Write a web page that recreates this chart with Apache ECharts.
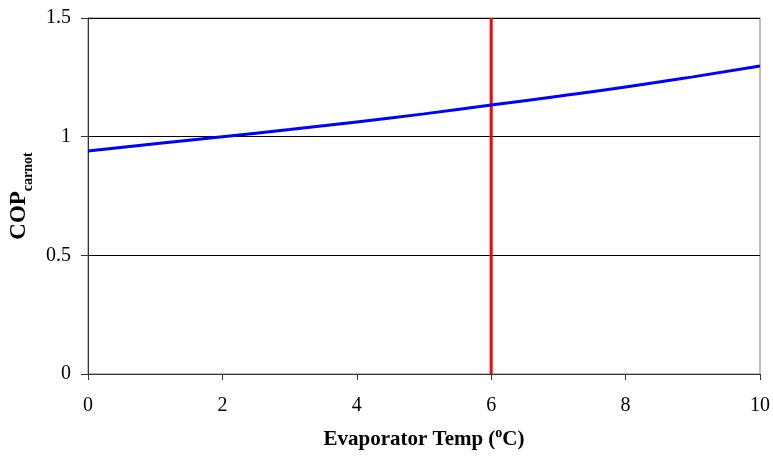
<!DOCTYPE html>
<html><head><meta charset="utf-8">
<script src="https://cdn.jsdelivr.net/npm/echarts@6/dist/echarts.min.js"></script>
<style>html,body{margin:0;padding:0;background:#fff}#c{width:773px;height:459px}</style>
</head><body><div id="c"></div>
<script>
const temps = [0,1,2,3,4,5,6,7,8,9,10];
const cop = [0.94,0.97,1.0,1.03,1.062,1.096,1.133,1.17,1.209,1.252,1.298];
const markerTemp = 6;
const yTicks = [0,0.5,1,1.5];

const chart = echarts.init(document.getElementById('c'));
const F = '"Liberation Serif","Times New Roman",serif';
chart.setOption({
  animation:false,
  grid:{left:88,right:13,top:18,bottom:85,show:true,borderColor:'#808080',borderWidth:1,
        containLabel:false,outerBoundsMode:'none'},
  xAxis:{type:'value',min:0,max:10,interval:2,
    axisLine:{lineStyle:{color:'#333',width:1}},
    axisTick:{show:true,length:6,inside:false,lineStyle:{color:'#333'}},
    axisLabel:{color:'#000',fontFamily:F,fontSize:20,margin:22},
    splitLine:{show:false},
    name:'{b|Evaporator Temp (}{s|o}{b|C)}',nameLocation:'middle',nameGap:52,
    nameTextStyle:{rich:{
      b:{fontFamily:F,fontSize:21,fontWeight:'bold',color:'#000',lineHeight:24,verticalAlign:'bottom'},
      s:{fontFamily:F,fontSize:14,fontWeight:'bold',color:'#000',lineHeight:24,verticalAlign:'top'}}}
  },
  yAxis:{type:'value',min:0,max:1.5,interval:0.5,
    axisLine:{show:true,lineStyle:{color:'#333',width:1}},
    axisTick:{show:true,length:7,inside:false,lineStyle:{color:'#333'}},
    axisLabel:{color:'#000',fontFamily:F,fontSize:20,margin:17,formatter:v=>String(v)},
    splitLine:{show:true,lineStyle:{color:'#000',width:1}},
    name:'{b|COP}{s|carnot}',nameLocation:'middle',nameGap:51,
    nameTextStyle:{rich:{
      b:{fontFamily:F,fontSize:23,fontWeight:'bold',color:'#000',lineHeight:28,verticalAlign:'top'},
      s:{fontFamily:F,fontSize:14,fontWeight:'bold',color:'#000',lineHeight:28,verticalAlign:'bottom'}}}
  },
  series:[
    {type:'line',data:temps.map((t,i)=>[t,cop[i]]),smooth:true,symbol:'none',
     lineStyle:{color:'#0000ff',width:3},z:3},
    {type:'line',data:[[markerTemp,yTicks[0]],[markerTemp,yTicks[yTicks.length-1]]],symbol:'none',
     lineStyle:{color:'#ff0000',width:3},z:2}
  ]
});
</script></body></html>
